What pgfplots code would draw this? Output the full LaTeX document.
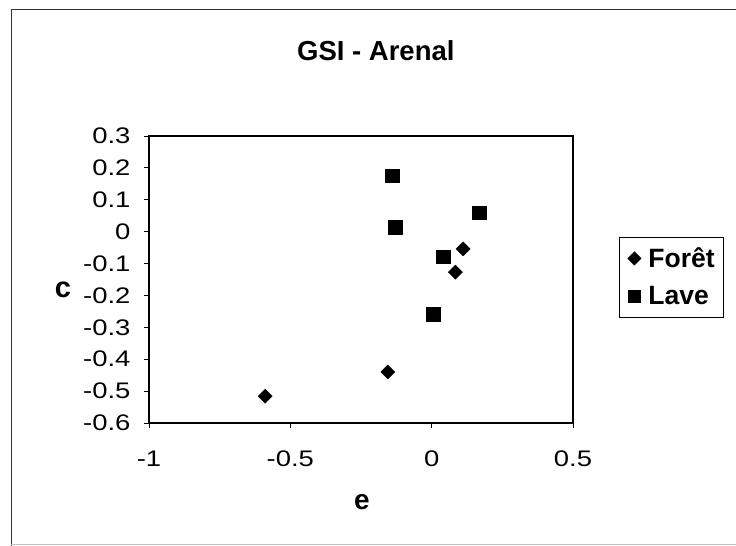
\documentclass[border=0pt]{standalone}
\usepackage{pgfplots}
\pgfplotsset{compat=1.18}
\usepackage{fontspec}
\setmainfont{Liberation Sans}
\newfontfamily\tickfont[FakeStretch=1.22]{Liberation Sans}
\begin{document}
\begin{tikzpicture}
\useasboundingbox (0,0) rectangle (736bp,546bp);
\fill[white] (0,0) rectangle (736bp,546bp);
\draw[black!80, line width=1bp] (11bp,0bp) -- (11bp,536bp) -- (740bp,536bp);
\draw[black!25, line width=0.8bp] (11bp,2bp) -- (740bp,2bp);
\begin{axis}[
  at={(149bp,123bp)}, anchor=south west,
  scale only axis, width=424bp, height=287bp,
  xmin=-1, xmax=0.5, ymin=-0.6, ymax=0.3,
  xtick={-1,-0.5,0,0.5},
  xticklabels={-1,-0.5,0,0.5},
  ytick={-0.6,-0.5,-0.4,-0.3,-0.2,-0.1,0,0.1,0.2,0.3},
  yticklabels={-0.6,-0.5,-0.4,-0.3,-0.2,-0.1,0,0.1,0.2,0.3},
  tick align=outside, major tick length=5bp,
  xtick pos=bottom, ytick pos=left,
  axis line style={black, line width=1.1bp},
  tick style={black, line width=0.9bp},
  tick label style={font=\fontsize{22.5bp}{26bp}\tickfont},
  xticklabel style={yshift=-19bp},
  yticklabel style={xshift=-10bp},
  title={GSI - Arenal},
  title style={font=\fontsize{27.5bp}{32bp}\selectfont\bfseries, at={(axis description cs:0.535,1.275)}, anchor=center},
  xlabel={e},
  xlabel style={font=\fontsize{28bp}{30bp}\selectfont\bfseries, at={(axis description cs:0.502,-0.275)}, anchor=center},
  ylabel={c},
  ylabel style={font=\fontsize{29bp}{30bp}\selectfont\bfseries, rotate=-90, at={(axis description cs:-0.203,0.463)}, anchor=center},
  legend style={at={(axis description cs:1.1085,0.648)}, anchor=north west,
    draw=black, line width=0.8bp, font=\fontsize{26.5bp}{28bp}\selectfont\bfseries,
    inner xsep=7bp, inner ysep=2bp, row sep=0bp,
    nodes={inner xsep=2bp, inner ysep=0bp, minimum height=38bp}},
  legend cell align=left,
  legend image code/.code={\path[draw=none,fill=none] (0bp,0bp) -- (20bp,0bp); \draw[#1] plot coordinates {(8bp,0bp)};},
]
\addplot[only marks, mark=square*, mark size=5bp, mark options={rotate=45, fill=black, draw=black},
  legend image post style={mark size=4.6bp}]
coordinates {(0.111,-0.054) (0.084,-0.127) (-0.155,-0.440) (-0.589,-0.516)};
\addlegendentry{Forêt}
\addplot[only marks, mark=square*, mark size=6.8bp, mark options={fill=black, draw=black},
  legend image post style={mark size=5.8bp}]
coordinates {(-0.140,0.176) (-0.129,0.014) (0.169,0.059) (0.040,-0.078) (0.006,-0.258)};
\addlegendentry{Lave}
\end{axis}
\end{tikzpicture}
\end{document}
